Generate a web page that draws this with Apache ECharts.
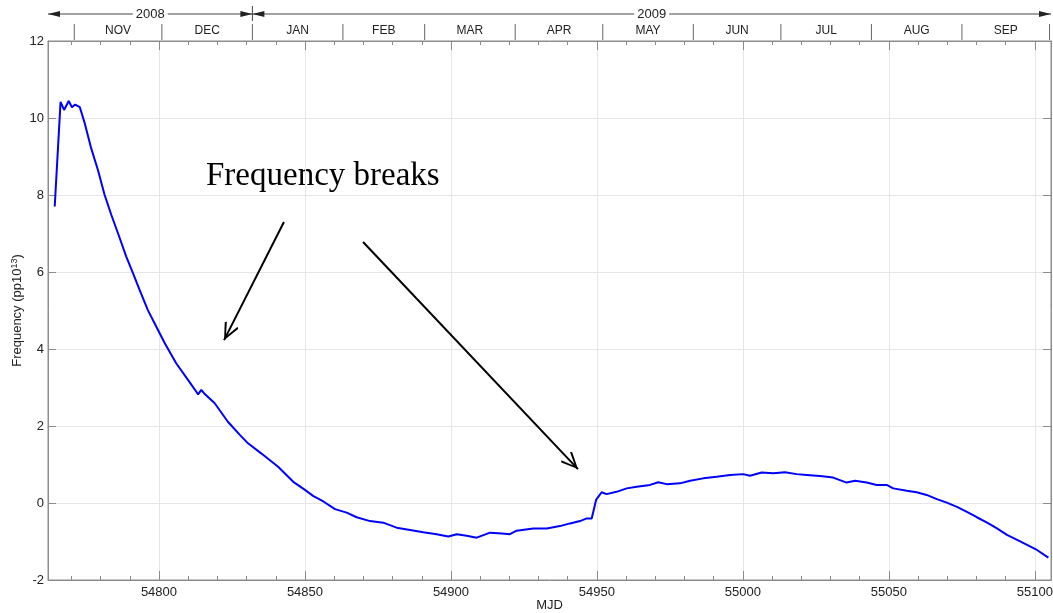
<!DOCTYPE html>
<html>
<head>
<meta charset="utf-8">
<script src="https://cdn.jsdelivr.net/npm/echarts@6/dist/echarts.min.js"></script>
<style>
html, body { margin: 0; padding: 0; background: #fff; }
#chart { width: 1053px; height: 613px; }
</style>
</head>
<body>
<div id="chart"></div>
<script>
// MJD and frequency offset (pp10^13)
var mjd = [54764.3, 54766.3, 54767.5, 54769.1, 54770.2, 54771.3, 54772.9, 54774.6, 54776.8, 54779.1,
    54781.4, 54783.7, 54786.0, 54788.8, 54791.1, 54793.4, 54796.2, 54799.1, 54802.0, 54805.9,
    54810.0, 54812.8, 54813.4, 54814.5, 54815.7, 54819.1, 54823.6, 54827.7, 54830.5, 54835.0,
    54840.8, 54846.0, 54850.0, 54852.9, 54856.3, 54860.3, 54864.3, 54867.7, 54872.3, 54876.8,
    54881.4, 54886.0, 54890.5, 54895.1, 54899.1, 54902.0, 54905.4, 54908.8, 54913.4, 54917.4,
    54920.2, 54922.5, 54928.2, 54932.8, 54937.3, 54940.8, 54944.2, 54946.5, 54948.2, 54948.7,
    54949.7, 54951.6, 54953.3, 54956.7, 54960.2, 54963.6, 54968.2, 54971.0, 54973.9, 54978.4,
    54981.9, 54986.4, 54991.0, 54995.6, 55000.1, 55002.4, 55006.4, 55010.4, 55014.4, 55018.4,
    55021.8, 55026.4, 55030.9, 55035.5, 55038.4, 55042.4, 55045.8, 55049.2, 55051.5, 55056.1,
    55059.5, 55062.9, 55066.4, 55069.8, 55073.3, 55076.7, 55080.1, 55083.6, 55087.0, 55090.4,
    55093.9, 55097.3, 55100.7, 55104.6];
var freq = [7.70, 10.42, 10.21, 10.44, 10.28, 10.35, 10.28, 9.86, 9.21, 8.65,
    8.00, 7.48, 7.00, 6.40, 5.97, 5.53, 5.01, 4.58, 4.15, 3.63,
    3.19, 2.89, 2.82, 2.94, 2.83, 2.59, 2.11, 1.77, 1.55, 1.29,
    0.94, 0.55, 0.34, 0.18, 0.04, -0.16, -0.25, -0.37, -0.47, -0.51,
    -0.64, -0.70, -0.76, -0.81, -0.87, -0.81, -0.85, -0.90, -0.77, -0.79,
    -0.81, -0.72, -0.66, -0.66, -0.60, -0.53, -0.47, -0.40, -0.40, -0.36,
    0.08, 0.28, 0.23, 0.29, 0.38, 0.42, 0.47, 0.54, 0.49, 0.51,
    0.58, 0.64, 0.68, 0.73, 0.75, 0.71, 0.79, 0.77, 0.80, 0.75,
    0.73, 0.70, 0.66, 0.53, 0.58, 0.53, 0.47, 0.47, 0.38, 0.32,
    0.28, 0.21, 0.10, 0.01, -0.10, -0.23, -0.37, -0.51, -0.66, -0.83,
    -0.96, -1.09, -1.22, -1.42];

// calendar header
var monthNames = ['NOV', 'DEC', 'JAN', 'FEB', 'MAR', 'APR', 'MAY', 'JUN', 'JUL', 'AUG', 'SEP'];
var monthStarts = [54771, 54801, 54832, 54863, 54891, 54922, 54952, 54983, 55013, 55044, 55075, 55105];
var yearNames = ['2008', '2009'];
var yearBounds = [54762, 54832, 55105.5];

// annotation arrows (tail -> head)
var arrowFrom = [[54842.8, 7.30], [54869.9, 6.78]];
var arrowTo = [[54822.3, 4.23], [54943.5, 0.88]];

var xMin = 54762, xMax = 55105.5;
var font = 'Liberation Sans';
var axisGray = '#8c8c8c';

var lineData = mjd.map(function (m, i) { return [m, freq[i]]; });
var monthData = monthNames.map(function (n, i) { return [monthStarts[i], monthStarts[i + 1]]; });
var yearData = yearNames.map(function (n, i) { return [yearBounds[i], yearBounds[i + 1]]; });

// open arrowhead, tip kept at the symbol centre by a tiny mirrored point
var chevron = 'path://M0,0 L10,14 L8,15.5 L0,3.5 L-8,15.5 L-10,14 Z M0,-15.5 L0.05,-15.5 L0,-15.45 Z';

function renderMonth(params, api) {
    var x0 = api.coord([api.value(0), 0])[0];
    var x1 = api.coord([api.value(1), 0])[0];
    var top = params.coordSys.y;
    var kids = [
        { type: 'line', shape: { x1: x0, y1: top + 24, x2: x0, y2: top + 40 }, style: { stroke: '#666', lineWidth: 1 } },
        { type: 'text', style: { text: monthNames[params.dataIndex], x: (x0 + x1) / 2, y: top + 31,
            align: 'center', verticalAlign: 'middle', fontSize: 12, fontFamily: font, fill: '#222' } }
    ];
    if (params.dataIndex === monthNames.length - 1) {
        kids.push({ type: 'line', shape: { x1: x1, y1: top + 24, x2: x1, y2: top + 40 }, style: { stroke: '#666', lineWidth: 1 } });
    }
    return { type: 'group', children: kids };
}

function renderYear(params, api) {
    var x0 = api.coord([api.value(0), 0])[0];
    var x1 = api.coord([api.value(1), 0])[0];
    var y = params.coordSys.y + 14;
    var kids = [
        { type: 'line', shape: { x1: x0, y1: y, x2: x1, y2: y }, style: { stroke: '#444', lineWidth: 1 } },
        { type: 'polygon', shape: { points: [[x0, y], [x0 + 12, y - 3], [x0 + 12, y + 3]] }, style: { fill: '#222' } },
        { type: 'polygon', shape: { points: [[x1, y], [x1 - 12, y - 3], [x1 - 12, y + 3]] }, style: { fill: '#222' } },
        { type: 'text', style: { text: yearNames[params.dataIndex], x: (x0 + x1) / 2, y: y,
            align: 'center', verticalAlign: 'middle', fontSize: 13, fontFamily: font, fill: '#222',
            backgroundColor: '#fff', padding: [0, 3] } }
    ];
    if (params.dataIndex > 0) {
        kids.push({ type: 'line', shape: { x1: x0, y1: y - 8, x2: x0, y2: y + 7 }, style: { stroke: '#444', lineWidth: 1 } });
    }
    return { type: 'group', children: kids };
}

function plainNum(v) { return String(v); }

var myChart = echarts.init(document.getElementById('chart'));

var option = {
    animation: false,
    backgroundColor: '#fff',
    grid: [
        { left: 48, right: 2, top: 41, bottom: 33, show: true, borderColor: axisGray, borderWidth: 1, outerBoundsMode: 'none', containLabel: false },
        { left: 48, right: 2, top: 0, height: 41, outerBoundsMode: 'none', containLabel: false }
    ],
    xAxis: [
        {   // main axis with labels
            type: 'value', gridIndex: 0, position: 'bottom', min: xMin, max: xMax, splitNumber: 7,
            name: 'MJD', nameLocation: 'middle', nameGap: 19, nameMoveOverlap: false,
            nameTextStyle: { fontFamily: font, fontSize: 13, color: '#222' },
            axisLine: { onZero: false, lineStyle: { color: axisGray } },
            axisTick: { inside: true, length: 9, lineStyle: { color: axisGray } },
            axisLabel: { margin: 6, fontFamily: font, fontSize: 13, color: '#222', showMinLabel: false, showMaxLabel: false, formatter: plainNum },
            splitLine: { show: true, lineStyle: { color: '#e6e6e6' } }
        },
        {   // bottom minor ticks
            type: 'value', gridIndex: 0, position: 'bottom', min: xMin, max: xMax, splitNumber: 34,
            axisLine: { show: false, onZero: false },
            axisTick: { inside: true, length: 4, lineStyle: { color: axisGray } },
            axisLabel: { show: false }, splitLine: { show: false }
        },
        {   // top major ticks
            type: 'value', gridIndex: 0, position: 'top', min: xMin, max: xMax, splitNumber: 7,
            axisLine: { show: true, onZero: false, lineStyle: { color: axisGray } },
            axisTick: { inside: true, length: 9, lineStyle: { color: axisGray } },
            axisLabel: { show: false }, splitLine: { show: false }
        },
        {   // top minor ticks
            type: 'value', gridIndex: 0, position: 'top', min: xMin, max: xMax, splitNumber: 34,
            axisLine: { show: false, onZero: false },
            axisTick: { inside: true, length: 4, lineStyle: { color: axisGray } },
            axisLabel: { show: false }, splitLine: { show: false }
        },
        {   // header
            type: 'value', gridIndex: 1, min: xMin, max: xMax, show: false
        }
    ],
    yAxis: [
        {
            type: 'value', gridIndex: 0, position: 'left', min: -2, max: 12, interval: 2,
            name: '{a|Frequency (pp10}{s|13}{a|)}', nameLocation: 'middle', nameGap: 23, nameRotate: 90,
            nameMoveOverlap: false,
            nameTextStyle: {
                rich: {
                    a: { fontFamily: font, fontSize: 13, color: '#222' },
                    s: { fontFamily: font, fontSize: 9, color: '#222', verticalAlign: 'top', padding: [0, 0, 6, 0] }
                }
            },
            axisLine: { show: true, onZero: false, lineStyle: { color: axisGray } },
            axisTick: { show: true, inside: true, length: 8, lineStyle: { color: axisGray } },
            axisLabel: { margin: 4, fontFamily: font, fontSize: 13, color: '#222' },
            splitLine: { show: true, lineStyle: { color: '#e6e6e6' } }
        },
        {
            type: 'value', gridIndex: 0, position: 'right', min: -2, max: 12, interval: 2,
            axisLine: { show: true, onZero: false, lineStyle: { color: axisGray } },
            axisTick: { show: true, inside: true, length: 8, lineStyle: { color: axisGray } },
            axisLabel: { show: false }, splitLine: { show: false }
        },
        { type: 'value', gridIndex: 1, min: 0, max: 41, inverse: true, show: false }
    ],
    series: [
        {
            type: 'line', xAxisIndex: 0, yAxisIndex: 0, data: lineData,
            showSymbol: false, smooth: false,
            lineStyle: { color: '#0000ff', width: 2 },
            markLine: {
                silent: true, animation: false,
                symbol: ['none', chevron], symbolSize: [15, 36],
                lineStyle: { color: '#000', width: 2, type: 'solid' },
                label: { show: false },
                data: arrowFrom.map(function (f, i) { return [{ coord: f }, { coord: arrowTo[i] }]; })
            }
        },
        { type: 'custom', xAxisIndex: 4, yAxisIndex: 2, clip: false, data: monthData, renderItem: renderMonth, silent: true },
        { type: 'custom', xAxisIndex: 4, yAxisIndex: 2, clip: false, data: yearData, renderItem: renderYear, silent: true }
    ],
    graphic: [
        {
            type: 'text', left: 206, top: 160,
            style: { text: 'Frequency breaks', fontFamily: 'Liberation Serif', fontSize: 33, fill: '#000' }
        }
    ]
};

myChart.setOption(option);
</script>
</body>
</html>
